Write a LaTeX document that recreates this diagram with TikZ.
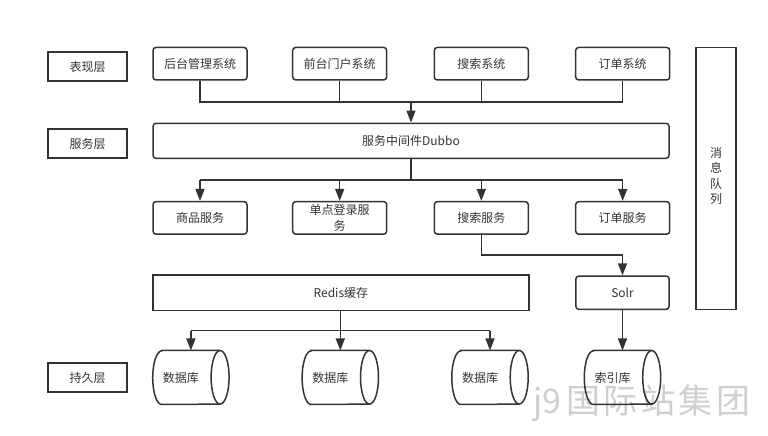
\documentclass[tikz,border=0pt]{standalone}
\usepackage{fontspec}
\setmainfont{Noto Sans CJK SC}
\usetikzlibrary{arrows.meta}
\definecolor{ln}{HTML}{333333}
\definecolor{wm}{HTML}{CFCFCF}
\newcommand\drawcyl[1]{%
  \draw[cylline] ([xshift=9pt]#1.north west) -- ([xshift=-9pt]#1.north east)
    arc[start angle=90,end angle=-90,x radius=9pt,y radius=26.8pt]
    -- ([xshift=9pt]#1.south west)
    arc[start angle=270,end angle=90,x radius=9pt,y radius=26.8pt] -- cycle;
  \draw[cylline] ([xshift=-9pt]#1.north east)
    arc[start angle=90,end angle=270,x radius=9pt,y radius=26.8pt];}
\begin{document}
\begin{tikzpicture}[x=1pt,y=1pt,
  box/.style={draw=ln, line width=1.5pt, rounded corners=3pt, minimum width=94pt,
    minimum height=32.5pt, font=\fontsize{12}{16}\selectfont, text=ln, inner sep=1pt},
  sqbox/.style={box, sharp corners},
  cyl/.style={draw=none, text width=56pt, align=left, inner xsep=10pt, inner ysep=0pt,
    minimum height=53.6pt, font=\fontsize{12}{16}\selectfont, text=ln},
  cylline/.style={draw=ln, line width=1.5pt},
  conn/.style={draw=ln, line width=1.5pt},
  arr/.style={conn, -{Triangle[length=12pt,width=9pt]}}]
\useasboundingbox (0,0) rectangle (768,436);

% watermark
\node[text=wm, font=\fontsize{34}{38}\selectfont, anchor=west, inner sep=0pt] (wmk) at (533,33)
  {j9\hspace{5pt}国\hspace{3.5pt}际\hspace{3.5pt}站\hspace{3.5pt}集\hspace{3.5pt}团};

% layer labels
\node[sqbox, minimum width=79pt, minimum height=29pt] (l1) at (87.5,369.5) {表现层};
\node[sqbox, minimum width=79pt, minimum height=29pt] (l2) at (87.5,292.5) {服务层};
\node[sqbox, minimum width=79pt, minimum height=29pt] (l3) at (87.5,58.5) {持久层};

% presentation layer
\node[box] (a1) at (200,372.3) {后台管理系统};
\node[box] (a2) at (339.7,372.3) {前台门户系统};
\node[box] (a3) at (481.3,372.3) {搜索系统};
\node[box] (a4) at (622.7,372.3) {订单系统};

% dubbo
\node[box, minimum width=516pt, minimum height=35pt] (dub) at (411,295.2) {服务中间件Dubbo};

% services
\node[box] (b1) at (200,218.1) {商品服务};
\node[box, align=center] (b2) at (339.7,218.1) {单点登录服\\务};
\node[box] (b3) at (481.3,218.1) {搜索服务};
\node[box] (b4) at (622.7,218.1) {订单服务};

% redis, solr
\node[sqbox, minimum width=376.3pt, minimum height=35.7pt] (red) at (340.9,143.1) {Redis缓存};
\node[box, minimum width=93.3pt, minimum height=33.3pt] (solr) at (622.5,143.3) {Solr};

% message queue
\node[sqbox, minimum width=40pt, minimum height=262pt, align=center,
  font=\fontsize{12}{15.7}\selectfont] (mq) at (716,257.7) {\raisebox{6pt}{\shortstack{消\\[1.5pt]息\\[1.5pt]队\\[1.5pt]列}}};

% databases
\node[cyl] (db1) at (190.9,58.5) {数据库};
\node[cyl] (db2) at (340.3,58.5) {数据库};
\node[cyl] (db3) at (490,58.5) {数据库};
\node[cyl] (idx) at (622.5,58.5) {索引库};
\drawcyl{db1}\drawcyl{db2}\drawcyl{db3}\drawcyl{idx}

% junctions
\coordinate (j1) at (411,334);
\coordinate (j2) at (411,256);
\coordinate (j3) at (0,181);
\coordinate (j4) at (0,105.3);

% connectors top
\draw[conn] (a1.south) -- (a1.south |- j1) -- (a4.south |- j1) -- (a4.south);
\draw[conn] (a2.south) -- (a2.south |- j1);
\draw[conn] (a3.south) -- (a3.south |- j1);
\draw[arr] (j1) -- (dub.north);

% connectors middle
\draw[conn] (dub.south) -- (j2);
\draw[conn] (b1.north |- j2) -- (b4.north |- j2);
\draw[arr] (b1.north |- j2) -- (b1.north);
\draw[arr] (b2.north |- j2) -- (b2.north);
\draw[arr] (b3.north |- j2) -- (b3.north);
\draw[arr] (b4.north |- j2) -- (b4.north);

% search -> solr
\draw[arr] (b3.south) -- (b3.south |- j3) -- (solr.north |- j3) -- (solr.north);
\draw[arr] (solr.south) -- (idx.north);

% redis -> databases
\draw[arr] (red.south -| db2.north) -- (db2.north);
\draw[conn] (db1.north |- j4) -- (db3.north |- j4);
\draw[arr] (db1.north |- j4) -- (db1.north);
\draw[arr] (db3.north |- j4) -- (db3.north);
\end{tikzpicture}
\end{document}
